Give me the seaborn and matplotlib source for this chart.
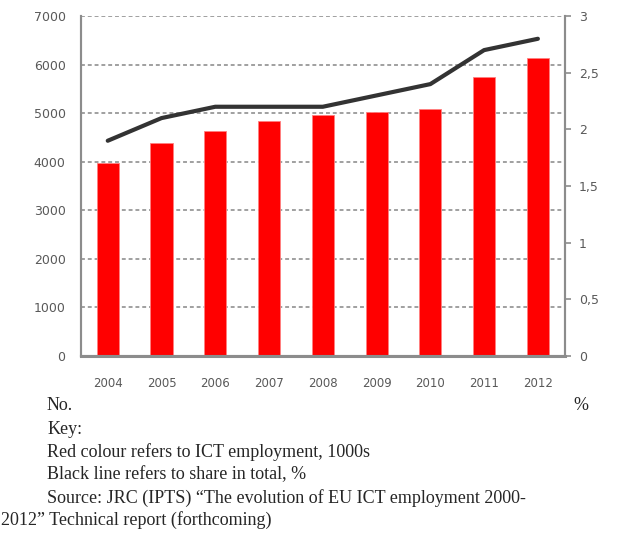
import matplotlib.pyplot as plt
import pandas as pd
import seaborn as sns

years = ["2004", "2005", "2006", "2007", "2008", "2009", "2010", "2011", "2012"]
ict_employment = [3970, 4380, 4630, 4840, 4960, 5020, 5080, 5740, 6130]
share_in_total = [1.9, 2.1, 2.2, 2.2, 2.2, 2.3, 2.4, 2.7, 2.8]
left_ticks = [0, 1000, 2000, 3000, 4000, 5000, 6000, 7000]
right_ticks = [0, 0.5, 1, 1.5, 2, 2.5, 3]
right_labels = ["0", "0,5", "1", "1,5", "2", "2,5", "3"]

notes = [
    "Key:",
    "Red colour refers to ICT employment, 1000s",
    "Black line refers to share in total, %",
    "Source: JRC (IPTS) \u201cThe evolution of EU ICT employment 2000-",
]
notes_last = "2012\u201d Technical report (forthcoming)"

sns.set_style("white")
tick_font = ["DejaVu Sans"]
text_font = ["Liberation Serif", "DejaVu Serif"]
axis_grey = "#8c8c8c"
label_grey = "#595959"

df = pd.DataFrame({"year": years, "ict": ict_employment, "share": share_in_total})

fig = plt.figure(figsize=(6.22, 5.37), dpi=100)
ax = fig.add_axes([0.130, 0.337, 0.778, 0.633])

sns.barplot(data=df, x="year", y="ict", color="#ff0000", saturation=1,
            width=0.41, edgecolor="#ff8080", linewidth=0.6, ax=ax, zorder=2)
ax.set_ylim(0, 7000)
ax.set_xlim(-0.5, len(years) - 0.5)
ax.set_yticks(left_ticks)
ax.set_yticklabels([str(t) for t in left_ticks])
for t in left_ticks[1:]:
    ax.axhline(t, color="#a0a0a0", linestyle=(0, (2.0, 1.5)), linewidth=1.4, zorder=1)
ax.set_xlabel("")
ax.set_ylabel("")

ax2 = ax.twinx()
sns.pointplot(data=df, x="year", y="share", color="#333333", markers="",
              linewidth=3.0, ax=ax2, zorder=3)
ax2.set_ylim(0, 3)
ax2.set_yticks(right_ticks)
ax2.set_yticklabels(right_labels)
ax2.set_xlim(-0.5, len(years) - 0.5)
ax2.set_ylabel("")
ax2.set_xlabel("")

for a in (ax, ax2):
    a.spines["top"].set_visible(False)
    for side in ("left", "right", "bottom"):
        a.spines[side].set_color(axis_grey)
        a.spines[side].set_linewidth(1.5)
ax.spines["bottom"].set_linewidth(2.2)

ax.tick_params(axis="y", length=0, pad=11, labelsize=9, labelcolor=label_grey)
ax.tick_params(axis="x", length=0, pad=15, labelsize=8.5, labelcolor=label_grey)
ax2.tick_params(axis="y", length=4, width=1.2, color=axis_grey, pad=6,
                labelsize=9, labelcolor=label_grey)
for lab in ax.get_xticklabels() + ax.get_yticklabels() + ax2.get_yticklabels():
    lab.set_family(tick_font)

fs = 13
fig.text(47 / 622, 1 - 405 / 537, "No.", family=text_font, fontsize=fs, va="center")
fig.text(573 / 622, 1 - 405 / 537, "%", family=text_font, fontsize=fs, va="center")
y_positions = [430, 452, 475, 498]
x_positions = [48, 47, 47, 47]
for txt, xp, yp in zip(notes, x_positions, y_positions):
    fig.text(xp / 622, 1 - yp / 537, txt, family=text_font, fontsize=fs, va="center")
fig.text(1 / 622, 1 - 520 / 537, notes_last, family=text_font, fontsize=fs, va="center")

fig.savefig("out.png", dpi=100)
